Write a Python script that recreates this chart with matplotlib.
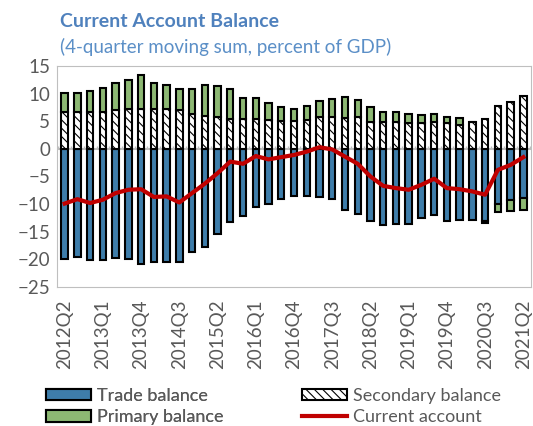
import matplotlib
matplotlib.use('Agg')
import matplotlib.pyplot as plt
import numpy as np

quarters = ['2012Q2','2012Q3','2012Q4','2013Q1','2013Q2','2013Q3','2013Q4','2014Q1','2014Q2','2014Q3',
            '2014Q4','2015Q1','2015Q2','2015Q3','2015Q4','2016Q1','2016Q2','2016Q3','2016Q4','2017Q1',
            '2017Q2','2017Q3','2017Q4','2018Q1','2018Q2','2018Q3','2018Q4','2019Q1','2019Q2','2019Q3',
            '2019Q4','2020Q1','2020Q2','2020Q3','2020Q4','2021Q1','2021Q2']
tradeBal = [-19.9,-19.6,-20.2,-20.2,-19.8,-19.9,-20.8,-20.5,-20.4,-20.5,-18.6,-17.7,-15.4,-13.3,-12.1,-10.6,-10.0,
            -9.0,-8.6,-8.6,-8.7,-9.0,-11.0,-11.7,-13.0,-13.7,-13.6,-13.6,-12.5,-11.9,-13.1,-12.8,-12.8,-13.0,-9.9,-9.2,-8.9]
secondaryBal = [6.7,6.7,6.6,6.6,7.0,7.2,7.3,7.3,7.3,7.0,6.4,6.0,5.7,5.4,5.4,5.4,5.2,5.1,5.1,5.2,5.7,5.7,5.5,5.7,
                4.9,4.9,4.9,4.6,4.6,4.8,4.6,4.3,4.8,5.4,7.7,8.4,9.6]
primaryBal = [3.4,3.4,3.9,4.5,4.9,5.3,6.1,4.6,4.2,3.8,4.4,5.6,5.7,5.4,3.8,3.8,3.1,2.4,2.2,2.6,3.0,3.3,3.8,3.2,
              2.6,1.8,1.7,1.7,1.5,1.6,1.1,1.2,0.1,-0.4,-1.5,-2.0,-2.1]
currentAcct = [-9.9,-9.1,-9.8,-9.2,-8.0,-7.4,-7.3,-8.7,-8.6,-9.7,-8.0,-6.3,-4.4,-2.3,-2.7,-1.3,-1.9,-1.5,-1.1,-0.5,
               0.3,-0.1,-1.4,-2.7,-5.0,-6.7,-7.1,-7.4,-6.5,-5.4,-7.1,-7.3,-7.7,-8.3,-3.8,-2.9,-1.5]

titleColor = '#4F81BD'
textGray = '#595959'
plt.rcParams['font.family'] = ['Lato', 'DejaVu Sans']
plt.rcParams['hatch.linewidth'] = 0.8

def addLegend(fig,handles,labels,xPix,yPix):
    leg = fig.legend(handles, labels, ncol=1, loc='upper left', bbox_to_anchor=(xPix/533, 1-yPix/426),
                     frameon=False, fontsize=13, labelcolor=textGray, handlelength=2.5, handleheight=0.62,
                     handletextpad=0.3, labelspacing=0.3, borderpad=0.0, borderaxespad=0.0)
    return leg

def masterFunction():
    fig = plt.figure(figsize=(5.33,4.26), dpi=100)
    ax = fig.add_axes([57/533, 1-287/426, (531-57)/533, (287-66)/426])
    x = np.arange(len(quarters))
    prim = np.array(primaryBal)
    trade = np.array(tradeBal)
    sec = np.array(secondaryBal)
    # primary stacks on secondary when positive, below trade when negative
    primBottom = np.where(prim >= 0, sec, trade)
    w = 0.5
    tb = ax.bar(x, trade, w, color='#3E7DAA', edgecolor='black', linewidth=1.5, label='Trade balance', zorder=2)
    sb = ax.bar(x, sec, w, color='white', edgecolor='black', linewidth=1.5, hatch='\\\\\\\\', label='Secondary balance', zorder=2)
    pb = ax.bar(x, prim, w, bottom=primBottom, color='#8DB873', edgecolor='black', linewidth=1.5, label='Primary balance', zorder=2)
    ca, = ax.plot(x, currentAcct, color='#C00000', linewidth=3, label='Current account', zorder=4)
    ax.axhline(0, color='#BFBFBF', linewidth=1.5, zorder=1)
    ax.vlines(np.arange(-0.5, len(quarters)), 0, 0.6, color='#BFBFBF', linewidth=1, zorder=1)

    ax.set_ylim(-25, 15)
    ax.set_xlim(-0.6, len(quarters)-0.4)
    ax.set_yticks(range(-25, 20, 5))
    ax.set_xticks(x[::3])
    ax.set_xticklabels(quarters[::3], rotation=90, fontsize=13.5, color=textGray)
    ax.tick_params(axis='y', length=0, labelsize=13.5, labelcolor=textGray, pad=5)
    ax.tick_params(axis='x', length=0, pad=9)
    for s in ax.spines.values():
        s.set_color('#BFBFBF')

    fig.text(60/533, 1-27/426, 'Current Account Balance', fontsize=14, fontweight='bold', color=titleColor)
    fig.text(60/533, 1-53/426, '(4-quarter moving sum, percent of GDP)', fontsize=13.5, color='#5B8FC7')

    leg1 = addLegend(fig, [tb, pb], ['Trade balance', 'Primary balance'], 46, 388)
    addLegend(fig, [sb, ca], ['Secondary balance', 'Current account'], 302, 388)
    fig.add_artist(leg1)
    fig.savefig('out.png', dpi=100)

masterFunction()
